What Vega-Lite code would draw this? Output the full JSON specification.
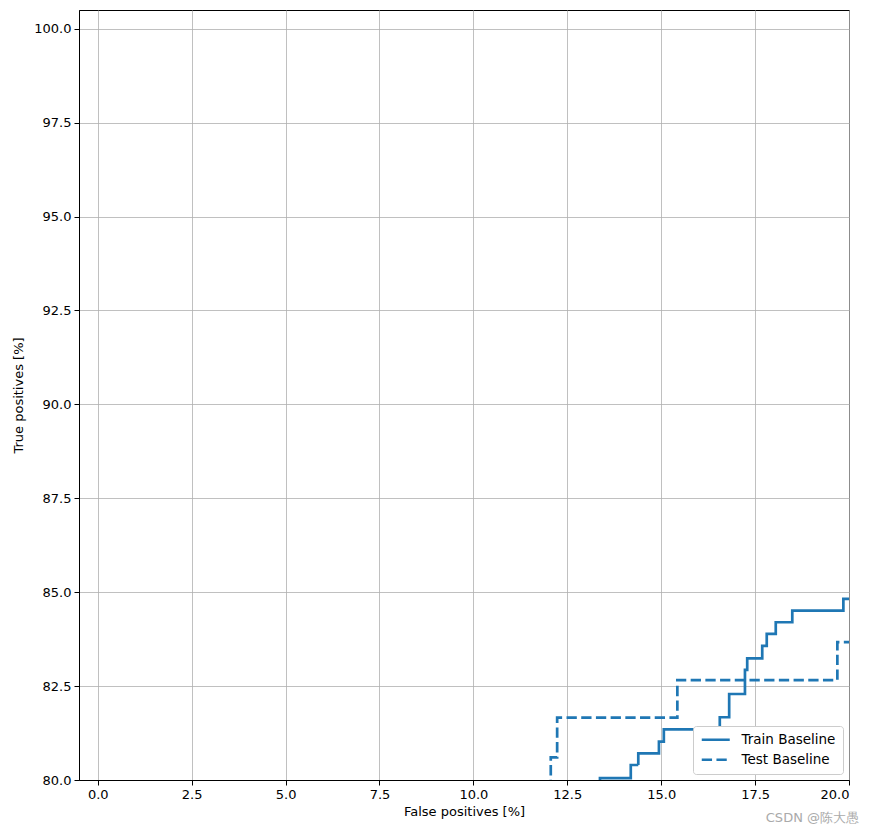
{
  "$schema": "https://vega.github.io/schema/vega-lite/v6.json",
  "width": 770,
  "height": 770,
  "autosize": {"type": "none"},
  "padding": {"left": 79, "top": 10, "right": 25, "bottom": 53},
  "background": "white",
  "config": {
    "font": "DejaVu Sans",
    "view": {"stroke": "black", "strokeWidth": 1},
    "axis": {
      "domainColor": "black",
      "tickColor": "black",
      "tickSize": 5,
      "labelFontSize": 13,
      "labelColor": "black",
      "titleFontSize": 13,
      "titleFontWeight": "normal",
      "titleColor": "black",
      "gridColor": "#b0b0b0",
      "gridWidth": 0.8,
      "labelPadding": 3
    }
  },
  "title": {
    "text": "CSDN @陈大愚",
    "orient": "bottom",
    "anchor": "end",
    "fontSize": 13,
    "fontWeight": "normal",
    "color": "#aaaaaa",
    "frame": "group",
    "offset": -6,
    "dx": 10
  },
  "data": {
    "values": [
      {"series": "Train Baseline", "fp": 13.0, "tp": 79.74},
      {"series": "Train Baseline", "fp": 13.37, "tp": 80.05},
      {"series": "Train Baseline", "fp": 14.19, "tp": 80.40},
      {"series": "Train Baseline", "fp": 14.39, "tp": 80.71},
      {"series": "Train Baseline", "fp": 14.94, "tp": 81.02},
      {"series": "Train Baseline", "fp": 15.07, "tp": 81.35},
      {"series": "Train Baseline", "fp": 16.56, "tp": 81.67},
      {"series": "Train Baseline", "fp": 16.81, "tp": 82.29},
      {"series": "Train Baseline", "fp": 17.23, "tp": 82.93},
      {"series": "Train Baseline", "fp": 17.29, "tp": 83.24},
      {"series": "Train Baseline", "fp": 17.69, "tp": 83.57},
      {"series": "Train Baseline", "fp": 17.81, "tp": 83.89},
      {"series": "Train Baseline", "fp": 18.05, "tp": 84.20},
      {"series": "Train Baseline", "fp": 18.49, "tp": 84.51},
      {"series": "Train Baseline", "fp": 19.85, "tp": 84.82},
      {"series": "Train Baseline", "fp": 20.5, "tp": 84.82},
      {"series": "Test Baseline", "fp": 11.8, "tp": 79.6},
      {"series": "Test Baseline", "fp": 12.06, "tp": 80.60},
      {"series": "Test Baseline", "fp": 12.23, "tp": 81.66},
      {"series": "Test Baseline", "fp": 15.43, "tp": 82.66},
      {"series": "Test Baseline", "fp": 19.69, "tp": 83.67},
      {"series": "Test Baseline", "fp": 20.5, "tp": 83.67}
    ]
  },
  "mark": {"type": "line", "interpolate": "step-after", "strokeWidth": 2.7, "color": "#1f77b4", "clip": true},
  "encoding": {
    "x": {
      "field": "fp", "type": "quantitative",
      "scale": {"domain": [-0.5, 20], "nice": false, "zero": false},
      "axis": {"values": [0, 2.5, 5, 7.5, 10, 12.5, 15, 17.5, 20], "format": ".1f", "title": "False positives [%]", "titlePadding": 4}
    },
    "y": {
      "field": "tp", "type": "quantitative",
      "scale": {"domain": [80, 100.5], "nice": false, "zero": false},
      "axis": {"values": [80, 82.5, 85, 87.5, 90, 92.5, 95, 97.5, 100], "format": ".1f", "title": "True positives [%]", "titlePadding": 8}
    },
    "strokeDash": {
      "field": "series", "type": "nominal",
      "scale": {"domain": ["Train Baseline", "Test Baseline"], "range": [[1, 0], [10.3, 4.4]]},
      "legend": {
        "title": null,
        "orient": "bottom-right",
        "offset": 6,
        "fillColor": "white",
        "strokeColor": "#cccccc",
        "cornerRadius": 3,
        "padding": 7,
        "symbolType": "M-1,0H4.6",
        "symbolSize": 100,
        "symbolFillColor": "transparent",
        "symbolStrokeWidth": 2.7,
        "symbolStrokeColor": "#1f77b4",
        "labelFontSize": 13.5,
        "labelColor": "black",
        "labelOffset": 28,
        "rowPadding": 5
      }
    }
  }
}
